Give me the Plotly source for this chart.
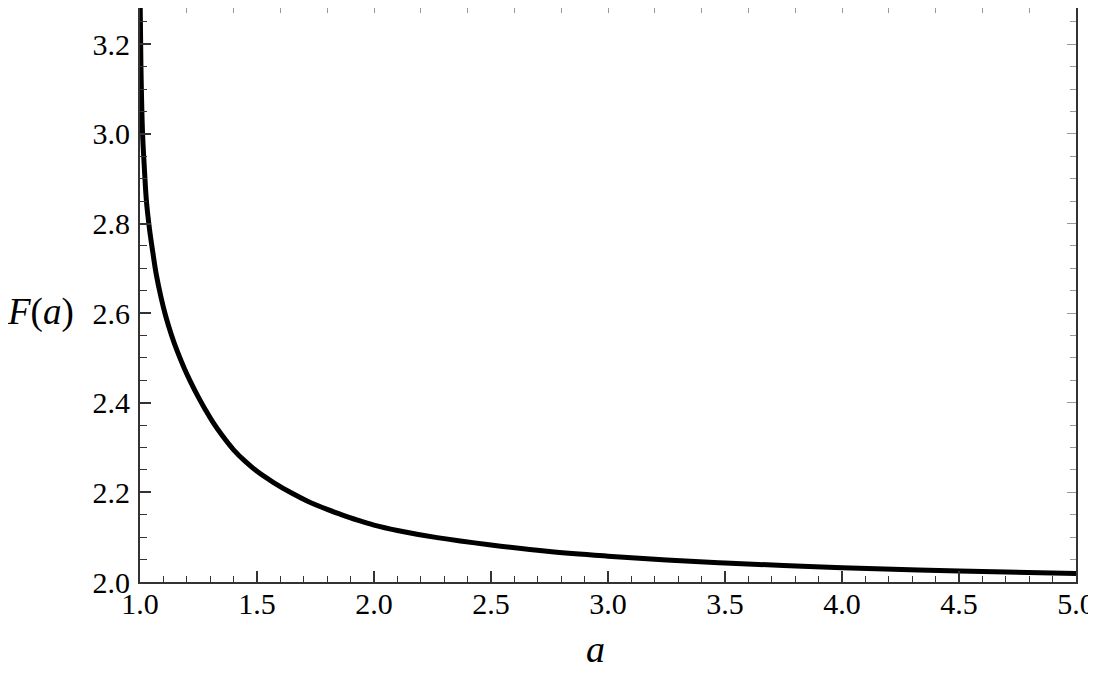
import plotly.graph_objects as go

# values
a_vals = [1.000, 1.004, 1.011, 1.018, 1.027, 1.040, 1.055, 1.070, 1.090, 1.110,
          1.134, 1.160, 1.190, 1.214, 1.250, 1.280, 1.310, 1.350, 1.400, 1.450,
          1.500, 1.571, 1.650, 1.714, 1.800, 1.857, 1.930, 2.000, 2.100, 2.270,
          2.500, 2.750, 3.000, 3.250, 3.500, 3.750, 4.000, 4.500, 5.000]
F_vals = [3.32, 3.15, 3.00, 2.93, 2.853, 2.79, 2.735, 2.685, 2.635, 2.593,
          2.552, 2.514, 2.476, 2.449, 2.412, 2.384, 2.358, 2.328, 2.295, 2.269,
          2.247, 2.222, 2.198, 2.181, 2.162, 2.151, 2.138, 2.127, 2.115, 2.099,
          2.0826, 2.068, 2.0576, 2.049, 2.0425, 2.0368, 2.0318, 2.0245, 2.019]

x_ticks = [1.0, 1.5, 2.0, 2.5, 3.0, 3.5, 4.0, 4.5, 5.0]
y_ticks = [2.0, 2.2, 2.4, 2.6, 2.8, 3.0, 3.2]

x_range = [1.0, 5.0]
y_range = [2.0, 3.281]

fig = go.Figure()
fig.add_trace(go.Scatter(x=a_vals, y=F_vals, mode='lines',
                         line=dict(color='black', width=5, shape='spline', smoothing=1.0),
                         hoverinfo='skip', showlegend=False))
# invisible copy so the mirrored (top/right) axes get drawn
fig.add_trace(go.Scatter(x=a_vals, y=F_vals, mode='lines', xaxis='x2', yaxis='y2',
                         line=dict(color='rgba(0,0,0,0)', width=0),
                         hoverinfo='skip', showlegend=False))

tick_font = dict(family='Liberation Serif', size=30, color='black')

# page body has an 8px margin, so the figure starts at (8, 8) in the window
fig.update_layout(
    width=1096, height=665,
    margin=dict(l=132, r=28, t=0, b=90.5),
    paper_bgcolor='white', plot_bgcolor='white',
    xaxis=dict(range=x_range, tickvals=x_ticks, ticktext=[f'{v:.1f}' for v in x_ticks],
               ticks='inside', ticklen=11, tickwidth=1.5, tickcolor='#333',
               minor=dict(dtick=0.1, tick0=1.0, ticks='inside', ticklen=6.5, tickcolor='#333', tickwidth=1.2),
               showline=True, linecolor='#333', linewidth=2, showgrid=False, zeroline=False,
               tickfont=tick_font, ticklabelstandoff=-6),
    yaxis=dict(range=y_range, tickvals=y_ticks, ticktext=[f'{v:.1f}' for v in y_ticks],
               ticks='inside', ticklen=11, tickwidth=1.5, tickcolor='#333',
               minor=dict(dtick=0.05, tick0=2.0, ticks='inside', ticklen=6.5, tickcolor='#333', tickwidth=1.2),
               showline=True, linecolor='#333', linewidth=2, showgrid=False, zeroline=False,
               tickfont=tick_font, ticklabelstandoff=2),
    xaxis2=dict(range=x_range, overlaying='x', side='top', dtick=0.2, tick0=1.0,
                ticks='inside', ticklen=5, tickwidth=1, tickcolor='#999',
                showticklabels=False, showline=True, linecolor='#333', linewidth=2,
                showgrid=False, zeroline=False),
    yaxis2=dict(range=y_range, overlaying='y', side='right', dtick=0.2, tick0=2.0,
                ticks='inside', ticklen=9, tickwidth=1, tickcolor='#999',
                minor=dict(dtick=0.05, tick0=2.0, ticks='inside', ticklen=6.5, tickcolor='#999', tickwidth=1),
                showticklabels=False, showline=True, linecolor='#333', linewidth=2,
                showgrid=False, zeroline=False),
)

fig.add_annotation(text='<i>F</i>(<i>a</i>)', xref='paper', yref='paper',
                   x=-0.106, y=0.4708, xanchor='center', yanchor='middle', showarrow=False,
                   font=dict(family='Liberation Serif', size=37, color='black'))
fig.add_annotation(text='<i>a</i>', xref='paper', yref='paper',
                   x=0.487, y=-0.1175, xanchor='center', yanchor='middle', showarrow=False,
                   font=dict(family='Liberation Serif', size=38, color='black'))

fig.write_html("out.html")
